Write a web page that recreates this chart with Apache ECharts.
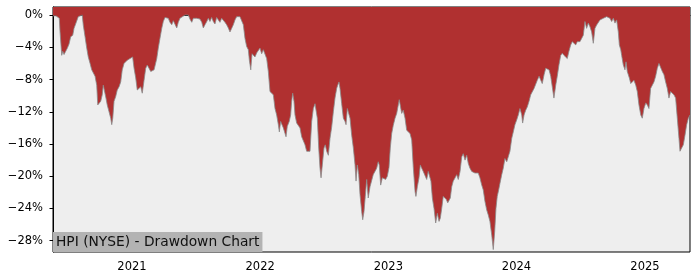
<!DOCTYPE html>
<html>
<head>
<meta charset="utf-8">
<script src="https://cdn.jsdelivr.net/npm/echarts@6/dist/echarts.min.js"></script>
<style>html,body{margin:0;padding:0;background:#fff}#c{width:700px;height:280px}</style>
</head>
<body>
<div id="c"></div>
<script>
// dates as decimal years
var years = [
2020.384,2020.392,2020.407,2020.418,2020.433,2020.439,2020.452,2020.460,2020.470,2020.485,
2020.496,2020.509,2020.522,2020.538,2020.548,2020.563,2020.581,2020.595,2020.612,2020.620,
2020.634,2020.647,2020.659,2020.673,2020.686,2020.698,2020.712,2020.725,2020.733,2020.745,
2020.756,2020.768,2020.776,2020.784,2020.797,2020.807,2020.821,2020.834,2020.842,2020.850,
2020.860,2020.873,2020.885,2020.899,2020.912,2020.924,2020.938,2020.951,2020.963,2020.984,
2021.005,2021.016,2021.029,2021.041,2021.055,2021.068,2021.080,2021.094,2021.107,2021.119,
2021.133,2021.146,2021.158,2021.172,2021.193,2021.205,2021.218,2021.232,2021.244,2021.257,
2021.271,2021.283,2021.296,2021.310,2021.322,2021.335,2021.349,2021.361,2021.374,2021.388,
2021.413,2021.439,2021.452,2021.466,2021.478,2021.491,2021.505,2021.517,2021.530,2021.544,
2021.556,2021.569,2021.583,2021.595,2021.608,2021.621,2021.634,2021.647,2021.660,2021.673,
2021.686,2021.699,2021.712,2021.725,2021.738,2021.751,2021.764,2021.777,2021.790,2021.803,
2021.816,2021.829,2021.842,2021.855,2021.868,2021.881,2021.894,2021.907,2021.915,2021.926,
2021.936,2021.946,2021.959,2021.972,2021.985,2021.998,2022.011,2022.024,2022.037,2022.050,
2022.063,2022.076,2022.089,2022.102,2022.115,2022.128,2022.141,2022.149,2022.159,2022.170,
2022.180,2022.193,2022.201,2022.211,2022.226,2022.237,2022.245,2022.253,2022.263,2022.271,
2022.284,2022.297,2022.310,2022.323,2022.336,2022.349,2022.362,2022.375,2022.388,2022.401,
2022.414,2022.427,2022.435,2022.445,2022.456,2022.466,2022.474,2022.484,2022.497,2022.507,
2022.518,2022.531,2022.544,2022.557,2022.570,2022.583,2022.596,2022.604,2022.614,2022.622,
2022.635,2022.648,2022.661,2022.669,2022.679,2022.690,2022.700,2022.713,2022.726,2022.739,
2022.747,2022.757,2022.768,2022.778,2022.791,2022.799,2022.809,2022.819,2022.830,2022.842,
2022.856,2022.869,2022.881,2022.895,2022.908,2022.920,2022.928,2022.939,2022.952,2022.965,
2022.978,2022.991,2023.004,2023.014,2023.025,2023.037,2023.051,2023.064,2023.076,2023.084,
2023.092,2023.103,2023.115,2023.129,2023.142,2023.154,2023.168,2023.181,2023.193,2023.207,
2023.214,2023.225,2023.238,2023.248,2023.259,2023.271,2023.285,2023.298,2023.310,2023.324,
2023.331,2023.342,2023.355,2023.368,2023.381,2023.394,2023.404,2023.415,2023.427,2023.441,
2023.451,2023.462,2023.472,2023.482,2023.493,2023.505,2023.519,2023.532,2023.544,2023.558,
2023.571,2023.583,2023.597,2023.610,2023.622,2023.635,2023.649,2023.661,2023.674,2023.688,
2023.700,2023.713,2023.727,2023.739,2023.752,2023.766,2023.778,2023.791,2023.805,2023.817,
2023.828,2023.838,2023.848,2023.859,2023.869,2023.883,2023.895,2023.908,2023.922,2023.934,
2023.947,2023.961,2023.973,2023.986,2024.000,2024.012,2024.025,2024.039,2024.046,2024.057,
2024.070,2024.082,2024.096,2024.109,2024.121,2024.135,2024.148,2024.160,2024.174,2024.187,
2024.199,2024.213,2024.226,2024.238,2024.252,2024.265,2024.277,2024.290,2024.304,2024.316,
2024.329,2024.343,2024.355,2024.368,2024.382,2024.394,2024.407,2024.421,2024.433,2024.446,
2024.460,2024.472,2024.485,2024.493,2024.519,2024.532,2024.545,2024.558,2024.571,2024.584,
2024.597,2024.610,2024.623,2024.636,2024.649,2024.662,2024.675,2024.688,2024.701,2024.714,
2024.727,2024.740,2024.753,2024.766,2024.779,2024.792,2024.800,2024.811,2024.818,2024.831,
2024.844,2024.852,2024.862,2024.878,2024.889,2024.901,2024.914,2024.928,2024.940,2024.953,
2024.967,2024.979,2024.992,2025.006,2025.018,2025.031,2025.044,2025.057,2025.070,2025.083,
2025.096,2025.109,2025.122,2025.135,2025.148,2025.161,2025.174,2025.187,2025.200,2025.213,
2025.226,2025.239,2025.252,2025.265,2025.273,2025.286,2025.299,2025.312,2025.325,2025.338,
2025.351
];
// drawdown in percent
var drawdown = [
-0.1,-0.2,-0.1,0,-0.4,-2.1,-5.0,-4.5,-4.9,-5.0,
-4.1,-3.6,-2.7,-2.5,-1.65,-1.0,-0.2,0,0,-1.24,
-2.7,-4.1,-5.2,-6.0,-6.8,-7.0,-7.6,-8.7,-11.15,-11.15,
-10.7,-9.9,-8.7,-8.9,-10.3,-11.15,-12.0,-12.8,-13.6,-12.8,
-10.7,-10.1,-9.3,-8.9,-8.3,-6.8,-6.0,-6.2,-5.6,-5.4,
-5.2,-6.6,-7.8,-9.3,-9.5,-8.9,-9.7,-8.1,-6.6,-6.2,
-6.4,-7.0,-7.2,-6.8,-5.4,-4.1,-2.9,-1.65,-0.8,-0.3,
-0.5,-0.4,-0.9,-1.2,-0.7,-0.9,-1.6,-0.9,-0.4,-0.2,
0,0,-0.5,-0.9,-0.4,-0.3,-0.4,-0.2,-0.5,-0.9,
-1.6,-1.2,-0.8,-0.4,-0.8,-0.3,-0.8,-1.1,-0.3,-0.4,
-0.9,-0.4,-0.5,-0.9,-1.2,-1.6,-2.1,-1.9,-1.2,-0.6,
-0.2,0,-0.2,-0.4,-1.2,-2.9,-3.9,-4.3,-5.6,-6.8,
-4.8,-4.7,-5.2,-4.7,-4.8,-4.1,-4.8,-4.3,-4.1,-5.4,
-7.0,-9.5,-9.3,-9.9,-11.6,-12.4,-13.6,-14.5,-13.2,-13.4,
-14.0,-13.8,-15.1,-13.8,-13.2,-12.4,-10.7,-9.7,-10.7,-12.4,
-13.4,-13.6,-14.0,-15.1,-15.3,-16.1,-16.9,-16.7,-16.9,-13.2,
-11.6,-11.0,-10.8,-12.8,-16.5,-19.0,-20.2,-18.6,-16.5,-16.1,
-16.9,-17.4,-15.3,-13.9,-12.0,-10.3,-9.1,-8.7,-8.3,-9.1,
-11.0,-12.8,-13.2,-13.6,-11.6,-11.4,-12.8,-14.9,-16.5,-18.6,
-20.6,-18.6,-19.8,-22.3,-24.4,-25.4,-24.4,-22.5,-20.4,-22.7,
-21.3,-21.1,-19.8,-19.6,-19.0,-18.2,-18.6,-21.1,-20.2,-20.4,
-20.4,-20.0,-18.9,-16.5,-14.7,-13.7,-12.8,-12.2,-12.0,-10.5,
-10.7,-12.2,-11.8,-12.8,-14.3,-14.5,-14.7,-15.5,-18.8,-21.9,
-22.5,-21.3,-20.2,-18.6,-19.0,-19.4,-19.6,-20.4,-19.4,-19.2,
-20.6,-22.7,-24.0,-25.8,-24.6,-25.6,-25.2,-24.0,-22.5,-22.3,
-22.9,-23.3,-23.5,-22.7,-21.3,-20.6,-20.2,-19.8,-20.4,-19.4,
-17.6,-17.2,-18.0,-17.4,-18.4,-19.0,-19.4,-19.2,-19.6,-19.4,
-19.6,-20.2,-21.1,-21.7,-23.1,-24.2,-24.8,-25.6,-27.3,-29.1,
-26.9,-24.0,-22.5,-21.7,-20.9,-19.8,-19.0,-17.8,-18.2,-18.4,
-16.9,-15.3,-14.5,-13.6,-13.0,-12.4,-11.6,-12.4,-13.4,-12.4,
-11.8,-11.4,-10.7,-9.9,-9.7,-9.1,-8.9,-8.1,-7.6,-7.4,
-8.5,-7.4,-6.6,-6.4,-6.8,-7.6,-8.9,-10.3,-8.7,-7.6,
-6.2,-5.0,-4.75,-5.0,-5.0,-5.4,-4.5,-3.7,-3.3,-3.2,
-3.7,-3.3,-3.1,-3.3,-2.5,-0.8,-1.65,-1.0,-1.45,-2.1,
-3.5,-1.65,-1.24,-1.0,-0.6,-0.75,-0.4,-0.4,-0.2,0,
-0.4,-0.8,-0.4,-1.0,-0.6,-2.1,-3.7,-4.3,-5.0,-6.2,
-6.8,-5.8,-7.0,-7.8,-8.5,-8.3,-8.1,-8.7,-9.5,-11.15,
-12.4,-12.8,-11.6,-10.9,-11.15,-11.6,-9.1,-8.7,-8.3,-7.6,
-6.6,-6.0,-6.2,-7.0,-7.4,-8.3,-9.1,-10.3,-9.5,-9.5,
-9.9,-10.3,-12.8,-15.3,-16.9,-16.9,-16.1,-14.9,-13.6,-12.8,
-12.4
];
var yTicks = [0,-4,-8,-12,-16,-20,-24,-28];
var xTickYears = [2021,2022,2023,2024,2025];
var titleText = 'HPI (NYSE) - Drawdown Chart';
var xRange = [2020.384, 2025.351];
var yRange = [-29.4, 1.0];

var DAY = 86400000;
function toTs(y){ return Date.UTC(2021,0,1) + (y - 2021) * 365.25 * DAY; }
var seriesData = years.map(function(y,i){ return [toTs(y), drawdown[i]]; });
var xTickTs = xTickYears.map(function(y){ return Date.UTC(y,0,1); });

var FONT = 'DejaVu Sans';
var chart = echarts.init(document.getElementById('c'), null, {renderer:'canvas'});
chart.setOption({
  animation: false,
  backgroundColor: '#ffffff',
  title: {
    text: titleText,
    left: 53, top: 232,
    backgroundColor: '#b3b3b3',
    padding: [2, 3, 2, 3],
    textStyle: {fontFamily: FONT, fontSize: 13.8, fontWeight: 'normal', color: '#111', lineHeight: 16}
  },
  grid: {
    left: 53, right: 10, top: 7, bottom: 28,
    show: true, backgroundColor: '#eeeeee', borderColor: '#000', borderWidth: 1
  },
  xAxis: {
    type: 'value',
    min: toTs(xRange[0]), max: toTs(xRange[1]),
    axisLine: {show: true, lineStyle: {color: '#000', width: 1}},
    axisTick: {show: true, length: 3.5, lineStyle: {color: '#000'}, customValues: xTickTs},
    axisLabel: {
      customValues: xTickTs, margin: 9,
      fontFamily: FONT, fontSize: 11.5, color: '#000',
      formatter: function(v){ return String(new Date(v).getUTCFullYear()); }
    },
    splitLine: {show: false}, minorTick:{show:false}
  },
  yAxis: {
    type: 'value',
    min: yRange[0], max: yRange[1],
    axisLine: {show: true, lineStyle: {color: '#000', width: 1}},
    axisTick: {show: true, length: 3.5, lineStyle: {color: '#000'}, customValues: yTicks},
    axisLabel: {
      customValues: yTicks, margin: 10,
      fontFamily: FONT, fontSize: 11.5, color: '#000',
      formatter: function(v){ return (v < 0 ? '\u2212' + Math.abs(v) : String(v)) + '%'; }
    },
    splitLine: {show: false}
  },
  series: [{
    type: 'line',
    data: seriesData,
    showSymbol: false,
    symbol: 'none',
    lineStyle: {color: '#8a8a8a', width: 0.8},
    areaStyle: {color: '#b03030', opacity: 1, origin: 'end'},
    clip: true,
    z: 1
  }]
});
</script>
</body>
</html>
